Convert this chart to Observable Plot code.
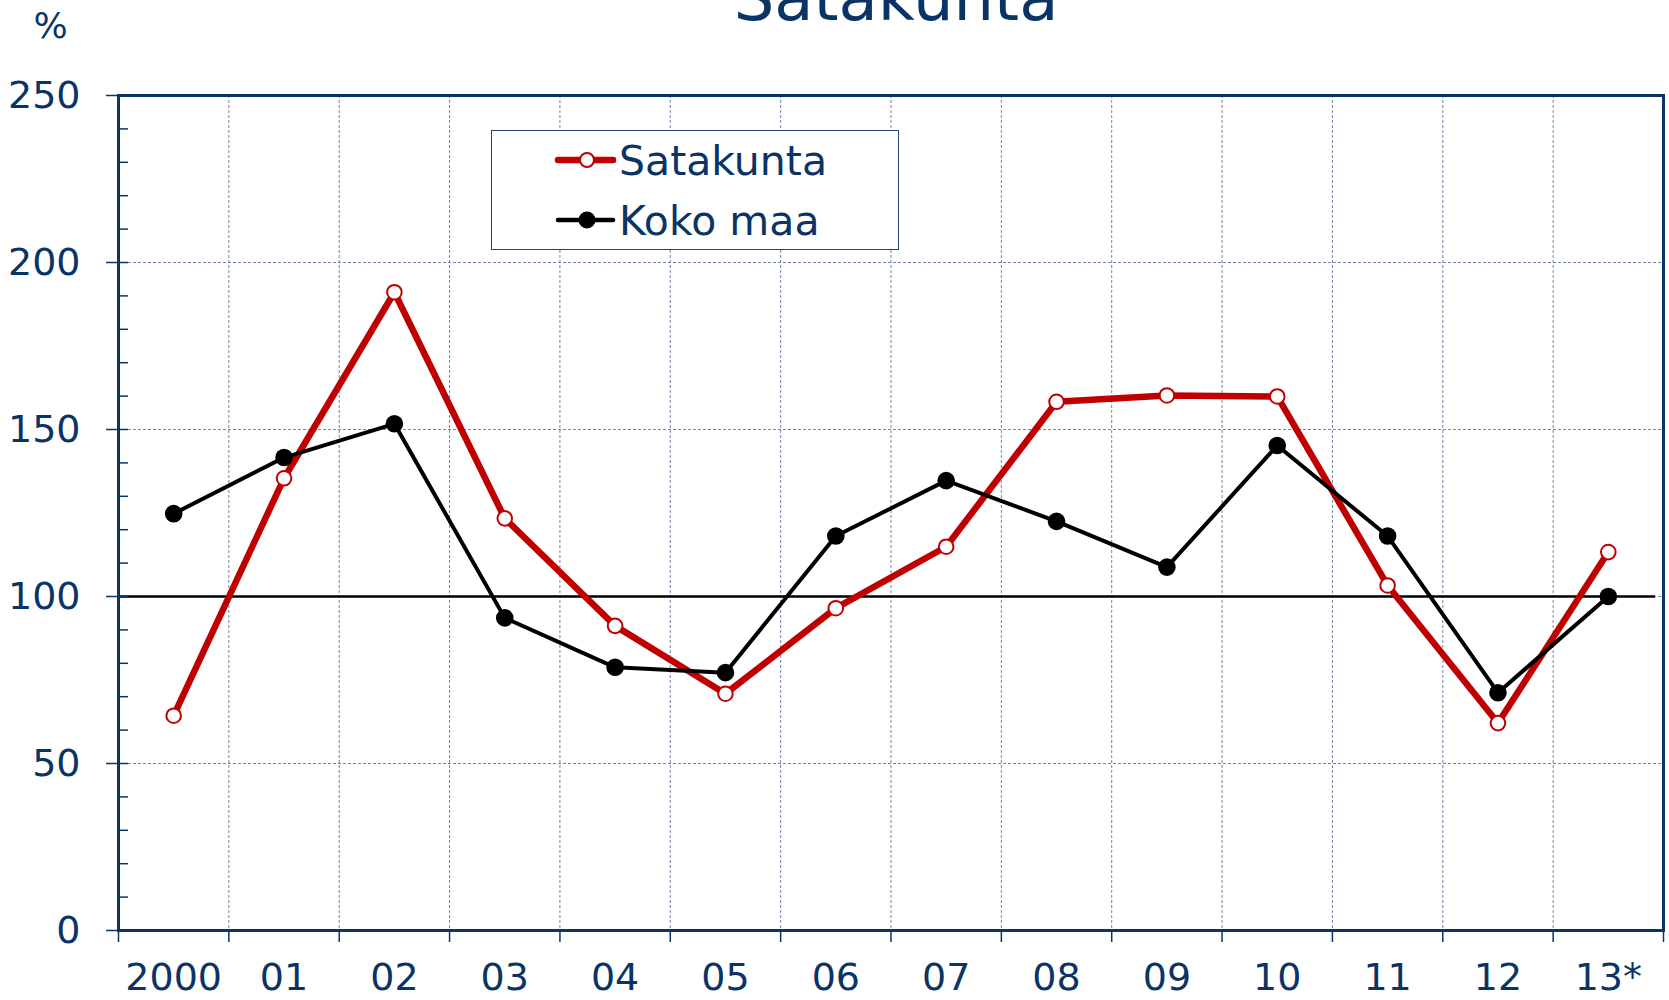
<!DOCTYPE html>
<html><head><meta charset="utf-8">
<script src="https://cdn.jsdelivr.net/npm/d3@7"></script>
<script src="https://cdn.jsdelivr.net/npm/@observablehq/plot@0.6"></script>
<style>
body{margin:0;background:#fff;font-family:"DejaVu Sans",Verdana,sans-serif;}
#wrap{position:relative;width:1669px;height:1000px;overflow:hidden;background:#fff}
#legend{position:absolute;left:491px;top:130px;width:408px;height:120px;border:1.3px solid #1f4677;background:#fff;box-sizing:border-box}
</style></head><body><div id="wrap"></div>
<script>
const title = "Satakunta";
const unitLabel = "%";
const years = ["2000","01","02","03","04","05","06","07","08","09","10","11","12","13*"];
const satakunta = [64.3,135.4,191.1,123.4,91.2,70.9,96.5,114.9,158.3,160.2,159.9,103.3,62.1,113.3];
const kokoMaa = [124.8,141.6,151.7,93.6,78.8,77.2,118.1,134.7,122.5,108.8,145.2,118.1,71.2,100.0];
const seriesNames = ["Satakunta","Koko maa"];
const yTicks = [0,50,100,150,200,250];
const yMinor = d3.range(0,251,10);
const yGrid = [50,100,150,200];
const refValue = 100;

const navy = "#0b3466";
const gridColor = "#6f86a8";
const red = "#c00000";

const idx = years.map((_, i) => i);
const bounds = d3.range(years.length + 1).map(i => i - 0.5);
const innerBounds = bounds.slice(1, -1);
const satData = years.map((y, i) => ({i, v: satakunta[i]}));
const kokoData = years.map((y, i) => ({i, v: kokoMaa[i]}));

const chart = Plot.plot({
  width: 1669, height: 1000,
  marginLeft: 118, marginRight: 6, marginTop: 95, marginBottom: 70,
  style: {fontFamily: "'DejaVu Sans', Verdana, sans-serif", fontSize: "38px", color: navy, background: "#fff"},
  x: {type: "linear", domain: [-0.5, years.length - 0.5], axis: null},
  y: {domain: [0, 250], axis: null},
  marks: [
    Plot.ruleY(yGrid, {stroke: gridColor, strokeWidth: 1, strokeDasharray: "3,2"}),
    Plot.ruleX(innerBounds, {stroke: gridColor, strokeWidth: 1, strokeDasharray: "3,2"}),
    Plot.ruleY([refValue], {stroke: "#000", strokeWidth: 2.5, insetRight: 8}),
    Plot.axisY({ticks: yMinor, tickSize: -10, tickFormat: () => "", color: navy, strokeWidth: 1.5, label: null}),
    Plot.axisY({ticks: yTicks, tickSize: 12, tickPadding: 26, tickFormat: d => String(d), color: navy, strokeWidth: 1.5, label: null, fontSize: 38}),
    Plot.axisX({ticks: bounds, tickSize: 12, tickFormat: () => "", color: navy, strokeWidth: 1.5, label: null}),
    Plot.axisX({ticks: idx, tickSize: 0, tickPadding: 33, tickFormat: i => years[i], color: navy, label: null, fontSize: 38}),
    Plot.frame({stroke: navy, strokeWidth: 3}),
    Plot.line(satData, {x: "i", y: "v", stroke: red, strokeWidth: 6.5}),
    Plot.dot(satData, {x: "i", y: "v", r: 7.3, fill: "#fff", stroke: red, strokeWidth: 2}),
    Plot.line(kokoData, {x: "i", y: "v", stroke: "#000", strokeWidth: 4}),
    Plot.dot(kokoData, {x: "i", y: "v", r: 8.8, fill: "#000"}),
    Plot.text([title], {text: d => d, frameAnchor: "top", dx: 5, dy: -76, lineAnchor: "bottom", fontSize: 64, fill: navy}),
    Plot.text([unitLabel], {text: d => d, frameAnchor: "top-left", dx: -68, dy: -58, textAnchor: "middle", lineAnchor: "bottom", fontSize: 36, fill: navy})
  ]
});
const wrap = document.getElementById("wrap");
wrap.appendChild(chart);

// legend
const leg = document.createElement("div");
leg.id = "legend";
wrap.appendChild(leg);
const lsvg = d3.select(leg).append("svg").attr("width", 406).attr("height", 118);
const items = [
  {name: seriesNames[0], stroke: red, sw: 6.5, fill: "#fff", r: 7, dsw: 2, y: 29},
  {name: seriesNames[1], stroke: "#000", sw: 4.5, fill: "#000", r: 8.5, dsw: 0, y: 89}
];
for (const it of items) {
  lsvg.append("line").attr("x1", 66).attr("x2", 121).attr("y1", it.y).attr("y2", it.y)
    .attr("stroke", it.stroke).attr("stroke-width", it.sw).attr("stroke-linecap", "round");
  lsvg.append("circle").attr("cx", 95).attr("cy", it.y).attr("r", it.r)
    .attr("fill", it.fill).attr("stroke", it.dsw ? it.stroke : "none").attr("stroke-width", it.dsw);
  lsvg.append("text").attr("x", 127).attr("y", it.y + 15).attr("fill", navy)
    .attr("font-size", 41).attr("font-family", "'DejaVu Sans', Verdana, sans-serif").text(it.name);
}
</script></body></html>
